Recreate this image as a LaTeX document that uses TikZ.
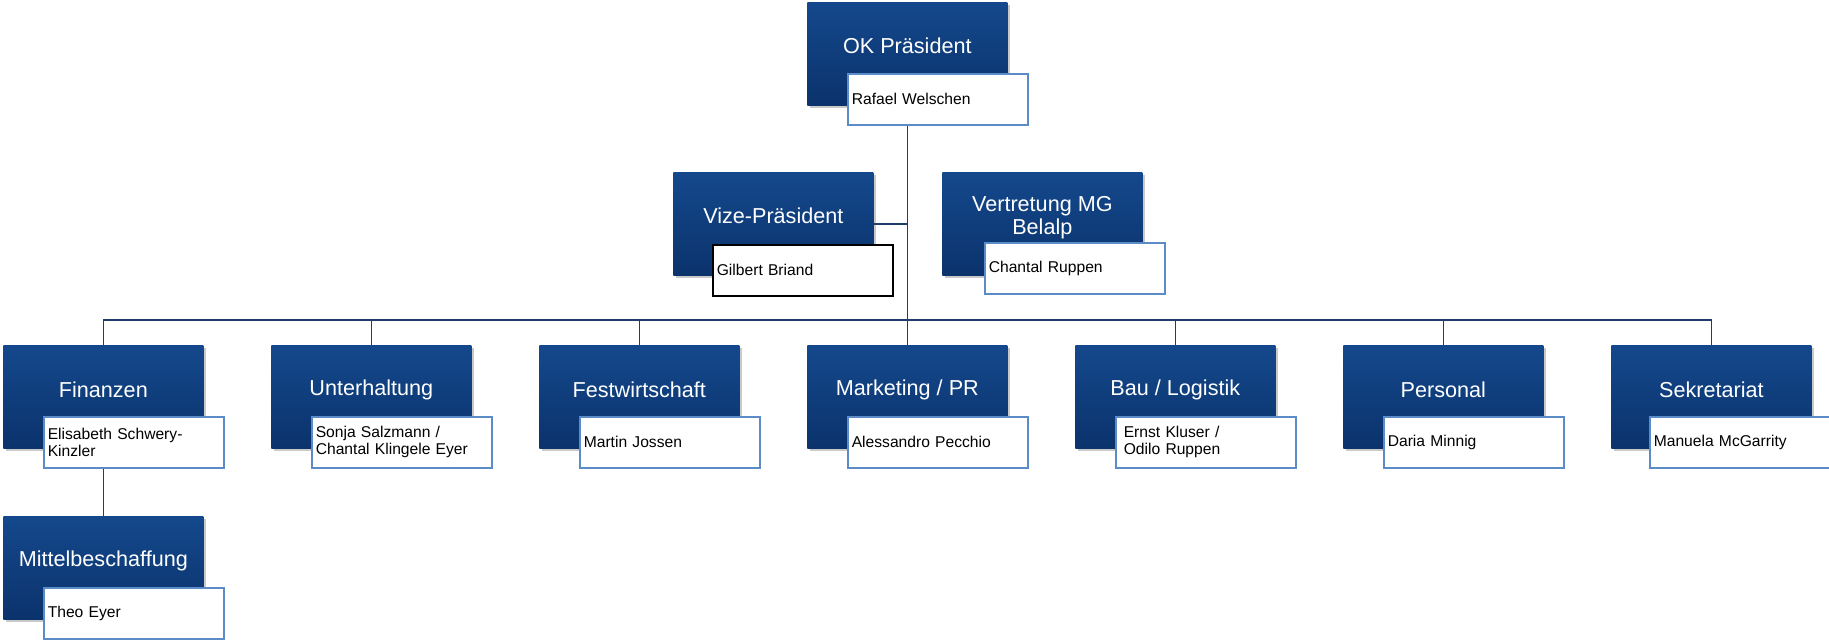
\documentclass[tikz,border=0pt]{standalone}
\usepackage{fontspec}
\setmainfont{Liberation Sans}
\usetikzlibrary{
    backgrounds,
    positioning,
    shadows
}
\definecolor{boxtop}{RGB}{20,72,140}
\definecolor{boxbottom}{RGB}{11,51,108}
\definecolor{holderline}{RGB}{92,140,200}
\definecolor{linkblue}{RGB}{32,62,108}
\tikzset{
    office/.style = {
        rectangle,
        anchor = north west,
        minimum width = 4cm,
        minimum height = 2.06cm,
        inner sep = 0pt,
        top color = boxtop,
        bottom color = boxbottom,
        drop shadow = {shadow xshift = 0.05cm, shadow yshift = -0.06cm,
                       opacity = 0.3, fill = black!70}
    },
    officetitle/.style = {
        text = white,
        inner sep = 0pt,
        align = center,
        font = \fontsize{12.3}{13}\selectfont
    },
    holder/.style = {
        rectangle,
        anchor = north west,
        draw = holderline,
        line width = 0.9pt,
        fill = white,
        text width = 3.44cm,
        inner xsep = 0.08cm,
        inner ysep = 0pt,
        minimum height = 1.02cm,
        align = left,
        font = \fontsize{8.9}{9.6}\selectfont
    },
    link/.style = {
        draw = linkblue,
        line width = 0.8pt
    }
}

\begin{document}
\begin{tikzpicture}[x = 0.02cm, y = -0.02cm]
    \useasboundingbox (0, 0) rectangle (1829, 641);

    % top
    \node[office] (ok) at (807, 2) {};
    \node[officetitle] at ([yshift = -0.88cm] ok.north) {OK Präsident};
    \node[holder] (okp) at (847, 73) {Rafael Welschen};

    \node[office] (vize) at (673, 172) {};
    \node[officetitle] at ([yshift = -0.88cm] vize.north) {Vize-Präsident};
    \node[holder, draw = black] (vizep) at (712, 244) {Gilbert Briand};

    \node[office] (ver) at (942, 172) {};
    \node[officetitle] at ([yshift = -0.92cm] ver.north) {Vertretung MG\\Belalp};
    \node[holder] (verp) at (984, 242) {Chantal Ruppen};

    % departments
    \node[office] (fin) at (3, 345) {};
    \node[officetitle] at ([yshift = -0.9cm] fin.north) {Finanzen};
    \node[holder] (finp) at (43, 416) {Elisabeth Schwery-\\Kinzler};

    \node[office] (unt) at (271, 345) {};
    \node[officetitle] at ([yshift = -0.9cm] unt.north) {Unterhaltung};
    \node[holder] (untp) at (311, 416) {Sonja Salzmann /\\Chantal Klingele Eyer};

    \node[office] (fest) at (539, 345) {};
    \node[officetitle] at ([yshift = -0.9cm] fest.north) {Festwirtschaft};
    \node[holder] (festp) at (579, 416) {Martin Jossen};

    \node[office] (mkt) at (807, 345) {};
    \node[officetitle] at ([yshift = -0.9cm] mkt.north) {Marketing / PR};
    \node[holder] (mktp) at (847, 416) {Alessandro Pecchio};

    \node[office] (bau) at (1075, 345) {};
    \node[officetitle] at ([yshift = -0.9cm] bau.north) {Bau / Logistik};
    \node[holder] (baup) at (1115, 416) {\hspace{0.08cm}Ernst Kluser /\\\hspace{0.08cm}Odilo Ruppen};

    \node[office] (pers) at (1343, 345) {};
    \node[officetitle] at ([yshift = -0.9cm] pers.north) {Personal};
    \node[holder] (persp) at (1383, 416) {Daria Minnig};

    \node[office] (sek) at (1611, 345) {};
    \node[officetitle] at ([yshift = -0.9cm] sek.north) {Sekretariat};
    \node[holder] (sekp) at (1649, 416) {Manuela McGarrity};

    % below Finanzen
    \node[office] (mit) at (3, 516) {};
    \node[officetitle] at ([yshift = -0.9cm] mit.north) {Mittelbeschaffung};
    \node[holder] (mitp) at (43, 587) {Theo Eyer};

    \coordinate (bus) at (907, 320);

    \begin{pgfonlayer}{background}
        \draw[link] (ok.south) -- (mkt.north);
        \draw[link] (vize.east) -- (vize.east -| ok.south);
        \draw[link] (fin.north) |- (bus) -| (sek.north);
        \foreach \d in {unt, fest, bau, pers}
            \draw[link] (\d.north) -- (\d.north |- bus);
        \draw[link] (fin.south) -- (mit.north);
    \end{pgfonlayer}
\end{tikzpicture}
\end{document}
